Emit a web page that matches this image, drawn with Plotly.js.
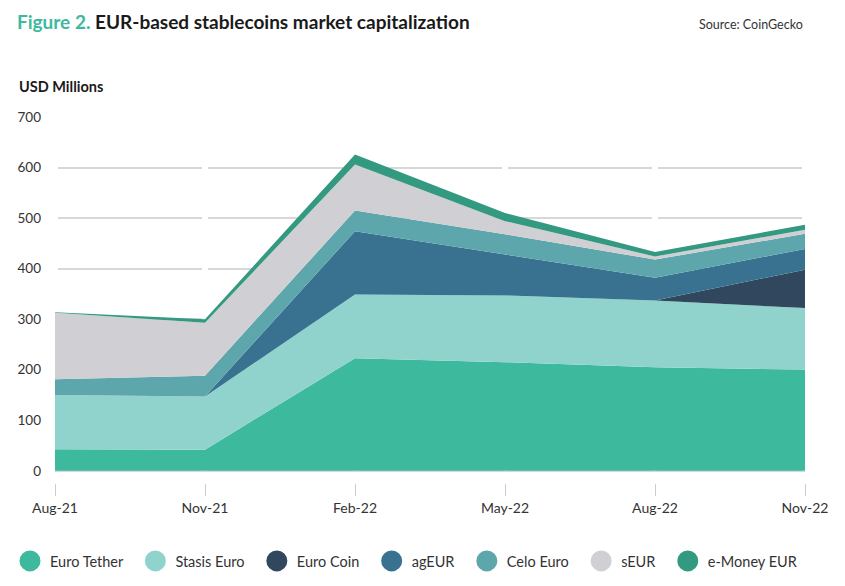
<!DOCTYPE html>
<html>
<head>
<meta charset="utf-8">
<script src="https://cdn.plot.ly/plotly-3.0.1.min.js"></script>
<style>html,body{margin:0;padding:0;background:#fff;}#chart{width:845px;height:586px;}</style>
</head>
<body>
<div id="chart"></div>
<script>
var categories = ['Aug-21', 'Nov-21', 'Feb-22', 'May-22', 'Aug-22', 'Nov-22'];
var euroTether = [43, 42, 223, 215, 205, 200];
var stasisEuro = [107, 105, 126, 132, 132, 122];
var euroCoin   = [0, 0, 0, 0, 0, 76];
var agEUR      = [0, 0, 125, 81, 45, 41];
var celoEuro   = [31, 41, 41, 40, 36, 30];
var sEUR       = [132, 105, 91, 26, 6, 8];
var eMoneyEUR  = [1, 7, 20, 16, 9, 10];
var seriesNames = ['Euro Tether', 'Stasis Euro', 'Euro Coin', 'agEUR', 'Celo Euro', 'sEUR', 'e-Money EUR'];
var yTicks = [0, 100, 200, 300, 400, 500, 600, 700];

var seriesValues = [euroTether, stasisEuro, euroCoin, agEUR, celoEuro, sEUR, eMoneyEUR];
var colors = ['#3dba9e', '#90d3cd', '#30475e', '#387290', '#5da6ac', '#d0cfd4', '#339980'];
var xIdx = categories.map(function (c, i) { return i; });

var traces = [];
seriesValues.forEach(function (vals, i) {
  traces.push({
    type: 'scatter', mode: 'lines', x: xIdx, y: vals, stackgroup: 'one',
    name: seriesNames[i], line: {width: 0, color: colors[i]}, fillcolor: colors[i],
    showlegend: false, hoverinfo: 'x+y+name'
  });
});
seriesNames.forEach(function (n, i) {
  traces.push({
    type: 'scatter', mode: 'markers', x: [null], y: [null],
    name: n + (i < seriesNames.length - 1 ? '\u00a0\u00a0' : ''),
    marker: {symbol: 'circle', size: 16, color: colors[i], line: {color: colors[i], width: 5}},
    showlegend: true
  });
});

var shapes = xIdx.map(function (i) {
  return {type: 'line', layer: 'between', xref: 'x', yref: 'y', x0: i, x1: i, y0: 0, y1: 700,
          line: {color: '#ffffff', width: 6}};
});

var layout = {
  width: 845, height: 586,
  margin: {l: 55, r: 40, t: 117, b: 103, autoexpand: false},
  paper_bgcolor: '#ffffff', plot_bgcolor: '#ffffff',
  font: {family: 'Lato, "Open Sans", sans-serif', color: '#333333', size: 14},
  title: {
    text: '<b><span style="color:#3dba9e">Figure 2.</span> EUR-based stablecoins market capitalization</b>',
    font: {size: 19, color: '#1a1a1a', family: 'Lato, sans-serif'},
    x: 17 / 845, xanchor: 'left', xref: 'container',
    y: 1 - 22 / 586, yanchor: 'middle', yref: 'container'
  },
  xaxis: {
    type: 'linear', range: [0, 5], tickvals: xIdx, ticktext: categories,
    showgrid: false, zeroline: false, showline: false,
    ticks: 'outside', ticklen: 12, tickwidth: 1, tickcolor: '#cccccc',
    tickfont: {size: 14, color: '#333333'}, fixedrange: true
  },
  yaxis: {
    range: [-24, 700], tickvals: yTicks, ticktext: yTicks.map(String),
    showgrid: true, gridcolor: '#d8d8d8', gridwidth: 1.5,
    zeroline: false, showline: false, ticks: '', ticklabelstandoff: 13,
    tickfont: {size: 13.5, color: '#333333'}, fixedrange: true
  },
  shapes: shapes,
  legend: {
    orientation: 'h', x: (10 - 55) / 750, xref: 'paper', xanchor: 'left',
    y: (483 - 561) / 366, yref: 'paper', yanchor: 'middle', traceorder: 'normal',
    font: {size: 14.5, color: '#333333'}, itemclick: false, itemdoubleclick: false,
    tracegroupgap: 0
  },
  annotations: [
    {text: 'Source: CoinGecko', xref: 'paper', yref: 'paper', x: 1, y: (483 - 24) / 366,
     xanchor: 'right', yanchor: 'middle', showarrow: false, font: {size: 12.5, color: '#333333'}},
    {text: '<b>USD Millions</b>', xref: 'paper', yref: 'paper', x: (17 - 55) / 750, y: (483 - 87) / 366,
     xanchor: 'left', yanchor: 'middle', showarrow: false, font: {size: 14.5, color: '#1a1a1a'}}
  ],
  showlegend: true,
  hovermode: 'closest'
};

Plotly.newPlot('chart', traces, layout, {displayModeBar: false});
</script>
</body>
</html>
